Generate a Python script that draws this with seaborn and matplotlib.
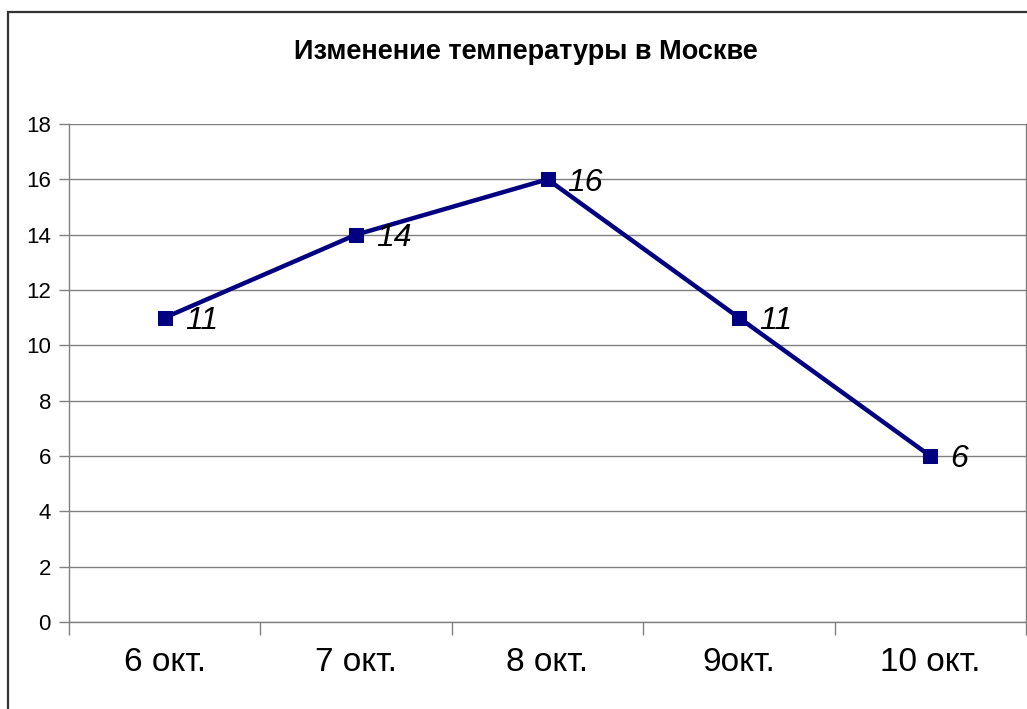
import matplotlib
matplotlib.use("Agg")
import matplotlib.pyplot as plt
import seaborn as sns
import pandas as pd
from matplotlib.patches import Rectangle

dates = ["6 окт.", "7 окт.", "8 окт.", "9окт.", "10 окт."]
temps = [11, 14, 16, 11, 6]
yticks = [0, 2, 4, 6, 8, 10, 12, 14, 16, 18]
title = "Изменение температуры в Москве"

sns.set_theme(style="white")
plt.rcParams['font.family'] = ['Liberation Sans', 'DejaVu Sans']
plt.rcParams['text.color'] = 'black'

df = pd.DataFrame({"date": dates, "temp": temps})

fig = plt.figure(figsize=(10.27, 7.09), dpi=100)
ax = fig.add_axes([69/1027, 87/709, 957/1027, 498/709])

sns.lineplot(data=df, x="date", y="temp", ax=ax, color="#000080", linewidth=3.2,
             marker="s", markersize=10.5, markeredgecolor="#000080", sort=False)

ax.set_xlim(-0.5, len(dates) - 0.5)
ax.set_ylim(0, 18)
ax.set_yticks(yticks)
ax.set_yticklabels([str(v) for v in yticks], fontsize=16)
ax.set_xticks(range(len(dates)))
ax.set_xticklabels(dates, fontsize=24)
ax.set_xticks([i - 0.5 for i in range(len(dates) + 1)], minor=True)
ax.tick_params(axis="x", which="major", length=0, pad=18, labelcolor="black")
ax.tick_params(axis="x", which="minor", length=9, width=1, color="#808080", direction="out", bottom=True)
ax.tick_params(axis="y", which="major", length=7, width=1, color="#808080", direction="out", left=True, pad=6, labelcolor="black")
ax.set_xlabel("")
ax.set_ylabel("")
ax.yaxis.grid(True, color="#808080", linewidth=1)
ax.xaxis.grid(False)
for s in ["left", "bottom", "right"]:
    ax.spines[s].set_visible(True)
    ax.spines[s].set_color("#808080")
    ax.spines[s].set_linewidth(1)
ax.spines["top"].set_visible(False)
ax.set_axisbelow(True)

for i, v in enumerate(temps):
    ax.annotate(str(v), (i, v), xytext=(14.5, -2.5), textcoords="offset points",
                fontsize=23, fontstyle="italic", va="center", ha="left", color="black")

fig.text(0.512, 1 - 52/709, title, fontsize=19.5, fontweight="bold", ha="center", va="center", color="black")

fig.patches.append(Rectangle((8/1027, -0.05), 1.1, 0.05 + (709 - 12)/709, transform=fig.transFigure,
                             fill=False, edgecolor="#333333", linewidth=1.6, figure=fig))

fig.savefig("out.png", dpi=100)
